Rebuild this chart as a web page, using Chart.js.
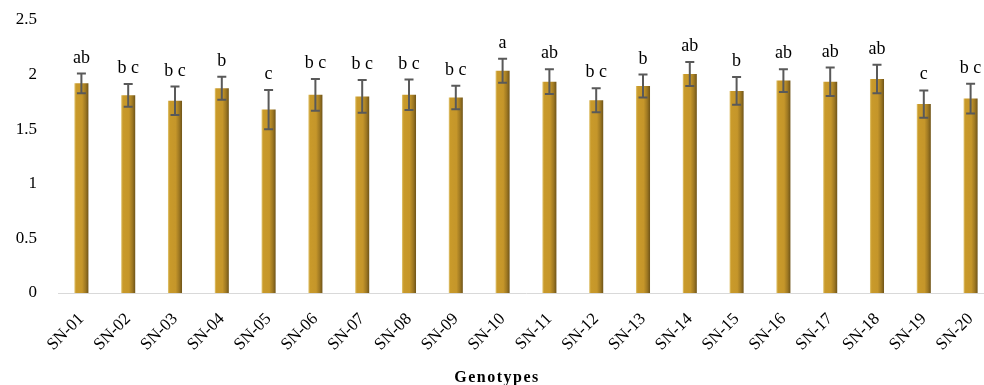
<!DOCTYPE html>
<html>
<head>
<meta charset="utf-8">
<script src="https://cdn.jsdelivr.net/npm/chart.js@4/dist/chart.umd.min.js"></script>
<style>
  html, body { margin: 0; padding: 0; background: #fff; overflow: hidden; }
  #wrap { width: 994px; height: 385px; }
</style>
</head>
<body>
<div id="wrap"><canvas id="chart"></canvas></div>
<script>
const genotypes = ["SN-01","SN-02","SN-03","SN-04","SN-05","SN-06","SN-07","SN-08","SN-09","SN-10",
                   "SN-11","SN-12","SN-13","SN-14","SN-15","SN-16","SN-17","SN-18","SN-19","SN-20"];
const means = [1.92, 1.81, 1.76, 1.875, 1.68, 1.815, 1.80, 1.815, 1.79, 2.035,
               1.935, 1.765, 1.895, 2.005, 1.85, 1.945, 1.935, 1.96, 1.73, 1.78];
const errors = [0.09, 0.105, 0.13, 0.105, 0.18, 0.145, 0.15, 0.14, 0.107, 0.11,
                0.113, 0.11, 0.105, 0.11, 0.127, 0.104, 0.13, 0.13, 0.125, 0.137];
const letters = ["ab","b c","b c","b","c","b c","b c","b c","b c","a",
                 "ab","b c","b","ab","b","ab","ab","ab","c","b c"];
const yTicks = [0, 0.5, 1, 1.5, 2, 2.5];
const xTitle = "Genotypes";

const serif = "'Liberation Serif', 'Times New Roman', serif";

// error bars, significance letters and the axis title
const errorBarPlugin = {
  id: "errorBars",
  afterDatasetsDraw(chart) {
    const { ctx, scales: { x, y } } = chart;
    ctx.save();
    ctx.strokeStyle = "#595959";
    ctx.lineWidth = 2;
    ctx.fillStyle = "#000";
    ctx.font = "18px " + serif;
    ctx.textAlign = "center";
    ctx.textBaseline = "alphabetic";
    means.forEach((m, i) => {
      const px = x.getPixelForValue(i);
      const top = y.getPixelForValue(m + errors[i]);
      const bot = y.getPixelForValue(m - errors[i]);
      ctx.beginPath();
      ctx.moveTo(px, top); ctx.lineTo(px, bot);
      ctx.moveTo(px - 4.5, top); ctx.lineTo(px + 4.5, top);
      ctx.moveTo(px - 4.5, bot); ctx.lineTo(px + 4.5, bot);
      ctx.stroke();
      ctx.fillText(letters[i], px, top - 11);
    });
    // x axis title
    ctx.font = "bold 16px " + serif;
    ctx.letterSpacing = "1.5px";
    ctx.textBaseline = "middle";
    ctx.fillText(xTitle, 497, 378);
    ctx.restore();
  }
};

function barFill(context) {
  const chart = context.chart;
  if (!chart.chartArea) return "#c3952a";
  const px = chart.scales.x.getPixelForValue(context.dataIndex);
  const g = chart.ctx.createLinearGradient(px - 7, 0, px + 7, 0);
  g.addColorStop(0, "#e2c777");
  g.addColorStop(0.12, "#c99a2a");
  g.addColorStop(0.55, "#c5962a");
  g.addColorStop(0.8, "#9e7822");
  g.addColorStop(1, "#6f5418");
  return g;
}

new Chart(document.getElementById("chart"), {
  type: "bar",
  data: {
    labels: genotypes,
    datasets: [{
      data: means,
      backgroundColor: barFill,
      borderWidth: 0,
      categoryPercentage: 1,
      barPercentage: 0.3
    }]
  },
  options: {
    responsive: true,
    maintainAspectRatio: false,
    animation: false,
    layout: { padding: { left: 0, right: 0, top: 20, bottom: 0 } },
    plugins: {
      legend: { display: false },
      tooltip: { enabled: false }
    },
    scales: {
      x: {
        grid: { display: false },
        border: { display: true, color: "#d9d9d9", width: 1 },
        afterFit(axis) { axis.height = 92; },
        ticks: {
          color: "#000",
          minRotation: 45,
          maxRotation: 45,
          padding: 8,
          font: { family: serif, size: 17 }
        }
      },
      y: {
        min: 0,
        max: 2.5,
        afterBuildTicks(axis) { axis.ticks = yTicks.map(v => ({ value: v })); },
        afterFit(axis) { axis.width = 58; },
        grid: { display: false, drawTicks: true, tickLength: 19 },
        border: { display: false },
        ticks: {
          color: "#000",
          padding: 2,
          font: { family: serif, size: 17 },
          callback: v => String(v)
        }
      }
    }
  },
  plugins: [errorBarPlugin]
});
</script>
</body>
</html>
